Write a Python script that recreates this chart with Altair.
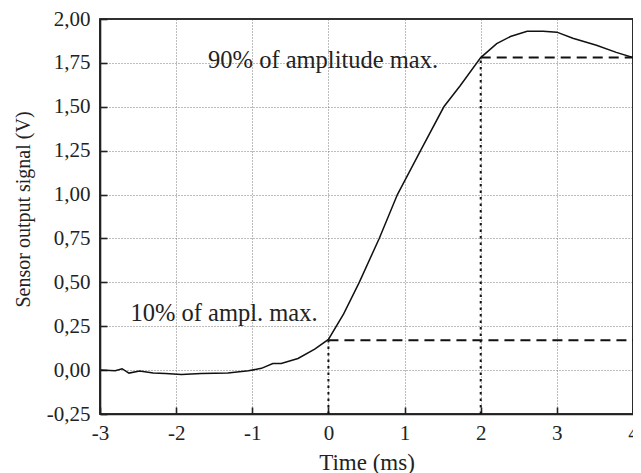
import altair as alt
import pandas as pd

# Curve
time_ms = [-3.0, -2.8, -2.71, -2.62, -2.48, -2.3, -2.14, -1.93, -1.67, -1.32, -1.05,
           -0.88, -0.73, -0.62, -0.40, -0.18, 0.0, 0.2, 0.405, 0.667, 0.906, 1.21,
           1.516, 1.73, 2.0, 2.21, 2.39, 2.61, 2.82, 3.0, 3.21, 3.52, 3.78, 4.0]
signal_v = [0.0, -0.003, 0.008, -0.017, -0.005, -0.017, -0.02, -0.025, -0.02, -0.017, -0.004,
            0.01, 0.038, 0.038, 0.066, 0.12, 0.175, 0.32, 0.50, 0.75, 1.00, 1.25,
            1.50, 1.62, 1.78, 1.86, 1.90, 1.93, 1.93, 1.925, 1.89, 1.85, 1.81, 1.78]

# Threshold markers (10% and 90%)
thr_time = [0.0, 2.0]
thr_level = [0.17, 1.78]
x_end = [4.0, 4.0]
y_floor = [-0.25, -0.25]

# Annotations
ann_text = ["90% of amplitude max.", "10% of ampl. max."]
ann_x = [-1.58, -2.60]
ann_y = [1.72, 0.28]

# Axis ranges and ticks
x_range = [-3, 4]
y_range = [-0.25, 2.0]
x_major = [-3, -2, -1, 0, 1, 2, 3, 4]
y_major = [-0.25, 0.0, 0.25, 0.5, 0.75, 1.0, 1.25, 1.5, 1.75, 2.0]

FONT = "Liberation Serif"
xs = alt.Scale(domain=x_range, nice=False, zero=False)
ys = alt.Scale(domain=y_range, nice=False, zero=False)

curve_df = pd.DataFrame({"t": time_ms, "v": signal_v})
hdf = pd.DataFrame({"t": thr_time, "t2": x_end, "v": thr_level})
vdf = pd.DataFrame({"t": thr_time, "v": y_floor, "v2": thr_level})
adf = pd.DataFrame({"label": ann_text, "t": ann_x, "v": ann_y})
fdf = pd.DataFrame({"t": [x_range[0]], "t2": [x_range[1]], "v": [y_range[0]], "v2": [y_range[1]]})

common = dict(labelFont=FONT, labelFontSize=21, labelColor="#222",
              titleFont=FONT, titleColor="#222", titleFontWeight="normal",
              ticks=True, tickSize={"expr": "-7"}, tickWidth=1.6, tickColor="#222",
              domain=True, domainColor="#222", domainWidth=1.6,
              grid=True, gridColor="#7a7a7a", gridDash=[1, 2], gridWidth=1,
              labelFlush=False, labelOverlap=False)

x_axis = alt.Axis(
    orient="bottom", values=x_major, title="Time (ms)", titleFontSize=23,
    labelExpr="(datum.value < 0 ? '-' : '') + format(abs(datum.value), 'd')",
    labelPadding=15, titlePadding=8, **common,
)
y_axis = alt.Axis(
    orient="left", values=y_major, title="Sensor output signal (V)", titleFontSize=20,
    labelExpr="(datum.value < 0 ? '-' : '') + replace(format(abs(datum.value), '.2f'), '.', ',')",
    labelPadding=17, titlePadding=13, titleY=190, **common,
)

curve = alt.Chart(curve_df).mark_line(color="#111", strokeWidth=1.5).encode(
    x=alt.X("t:Q", scale=xs, axis=x_axis),
    y=alt.Y("v:Q", scale=ys, axis=y_axis),
)

frame = alt.Chart(fdf).mark_rect(filled=False, stroke="#222", strokeWidth=1.5).encode(
    x=alt.X("t:Q"), x2="t2:Q", y=alt.Y("v:Q"), y2="v2:Q",
)

hlines = alt.Chart(hdf).mark_rule(color="#111", strokeWidth=2, strokeDash=[10, 6]).encode(
    x=alt.X("t:Q"), x2="t2:Q", y=alt.Y("v:Q"),
)

vlines = alt.Chart(vdf).mark_rule(color="#111", strokeWidth=2, strokeDash=[2.5, 4]).encode(
    x=alt.X("t:Q"), y=alt.Y("v:Q"), y2="v2:Q",
)

texts = alt.Chart(adf).mark_text(font=FONT, fontSize=24.5, color="#222", align="left",
                                 baseline="alphabetic").encode(
    x=alt.X("t:Q"), y=alt.Y("v:Q"), text="label:N",
)

chart = alt.layer(curve, frame, hlines, vlines, texts).properties(
    width=533, height=395,
    padding={"left": 92, "top": 11, "right": 0, "bottom": 59},
    autosize=alt.AutoSizeParams(type="none"),
    view=alt.ViewBackground(stroke="#222", strokeWidth=1.6),
).configure_view(stroke="#222", strokeWidth=1.6)

chart.save("out.html", embed_options={"renderer": "svg", "actions": False})
